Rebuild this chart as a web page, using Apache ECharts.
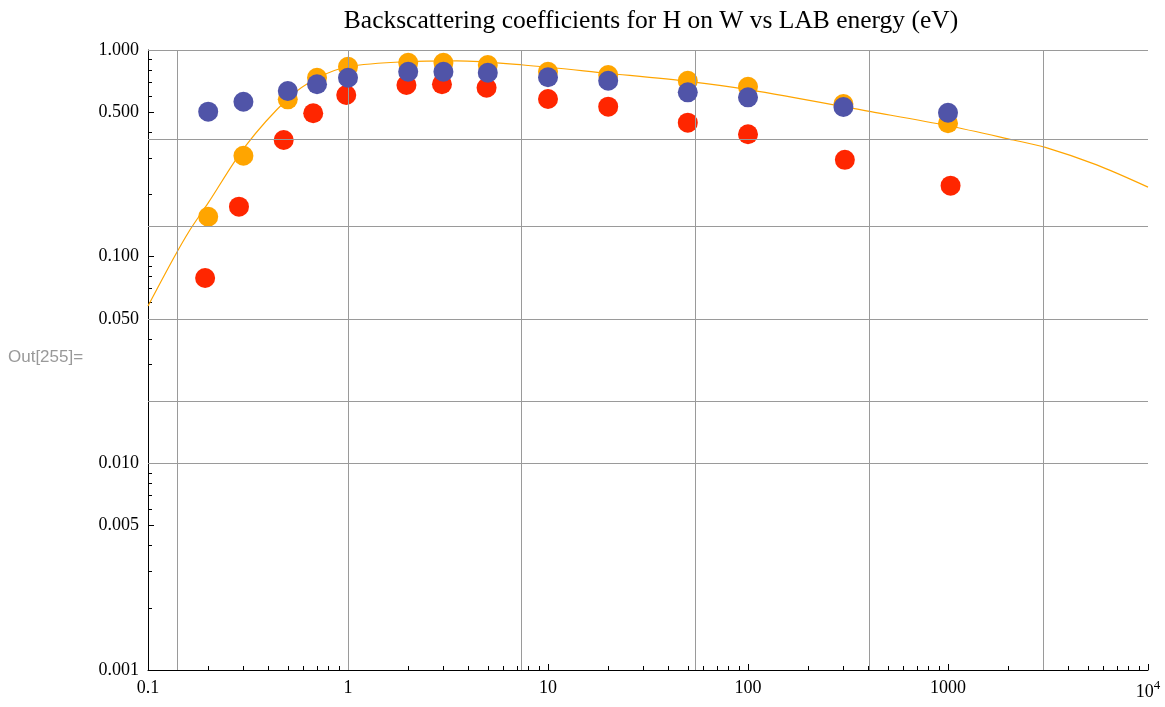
<!DOCTYPE html>
<html>
<head>
<meta charset="utf-8">
<title>Backscattering coefficients</title>
<script src="https://cdn.jsdelivr.net/npm/echarts@6/dist/echarts.min.js"></script>
<style>
    html, body { margin: 0; padding: 0; background: #fff; }
    #chart { width: 1165px; height: 707px; }
</style>
</head>
<body>
<div id="chart"></div>
<script>
// energies (eV) and backscattering coefficients
var energyOrange = [0.2, 0.3, 0.5, 0.7, 1, 2, 3, 5, 10, 20, 50, 100, 300, 1000];
var coefOrange   = [0.156, 0.308, 0.577, 0.734, 0.830, 0.868, 0.868, 0.846, 0.785, 0.757, 0.710, 0.664, 0.548, 0.442];
var energyRed = [0.193, 0.285, 0.477, 0.67, 0.98, 1.96, 2.95, 4.93, 10, 20, 50, 100, 305, 1030];
var coefRed   = [0.0788, 0.1745, 0.367, 0.494, 0.606, 0.677, 0.683, 0.657, 0.579, 0.532, 0.445, 0.391, 0.294, 0.2206];
var energyBlue = [0.2, 0.3, 0.5, 0.7, 1, 2, 3, 5, 10, 20, 50, 100, 300, 1000];
var coefBlue   = [0.503, 0.562, 0.633, 0.683, 0.734, 0.785, 0.785, 0.776, 0.738, 0.710, 0.624, 0.590, 0.530, 0.497];

// fitted curve
var fitEnergy = [0.1, 0.134, 0.162, 0.2, 0.305, 0.503, 0.698, 1, 1.96, 3.5, 7.52, 19.7, 51.3, 102, 412, 1000, 2121, 3066, 5540, 10000];
var fitCoef   = [0.0577, 0.098, 0.1346, 0.182, 0.340, 0.584, 0.730, 0.830, 0.878, 0.885, 0.846, 0.772, 0.703, 0.641, 0.503, 0.43, 0.367, 0.338, 0.278, 0.217];

// ticks and labels
var xMajor = [0.1, 1, 10, 100, 1000, 10000];
var yMajor = [0.001, 0.005, 0.01, 0.05, 0.1, 0.5, 1];
// grid lines sit at powers of e (Mathematica's automatic grid)
var xGrid = [0.1353, 1, 7.389, 54.60, 403.4, 2981];
var yGrid = [1, 0.3679, 0.1353, 0.04979, 0.01832, 0.006738, 0.002479];

function minorTicks(lo, hi) {
    var out = [];
    for (var d = lo; d < hi; d *= 10) {
        for (var k = 2; k <= 9; k++) {
            out.push(+(d * k).toPrecision(3));
        }
    }
    return out;
}
var xMinor = minorTicks(0.1, 10000);
var yMinor = minorTicks(0.001, 1);

function pairs(xs, ys) {
    return xs.map(function (x, i) { return [x, ys[i]]; });
}

var serif = 'Liberation Serif';
var chart = echarts.init(document.getElementById('chart'));

function logAxis(min, max, pos, major, minor, withLabel, fmt) {
    return {
        type: 'log', logBase: 10, min: min, max: max, position: pos,
        axisLine: {show: withLabel, lineStyle: {color: '#000', width: 1}},
        axisTick: {show: true, inside: true, length: withLabel ? 6 : 4,
                   customValues: withLabel ? major : minor,
                   lineStyle: {color: '#000', width: 1}},
        axisLabel: withLabel ? {
            customValues: major, formatter: fmt, color: '#000',
            fontFamily: serif, fontSize: 18, margin: 9,
            rich: {
                b: {fontFamily: serif, fontSize: 18, color: '#000'},
                sup: {fontFamily: serif, fontSize: 13, color: '#000', verticalAlign: 'bottom', padding: [0, 0, 14, 0]}
            }
        } : {show: false},
        splitLine: {show: false},
        minorTick: {show: false}
    };
}

var option = {
    animation: false,
    grid: {left: 148, right: 17, top: 50, bottom: 37, containLabel: false},
    graphic: [
        {type: 'text', x: 651, y: 21, style: {text: 'Backscattering coefficients for H on W vs LAB energy (eV)',
            font: '25.5px "Liberation Serif"', fill: '#000', textAlign: 'center', textVerticalAlign: 'middle'}},
        {type: 'text', x: 8, y: 357, style: {text: 'Out[255]=', font: '17px "Liberation Sans"',
            fill: '#999', textAlign: 'left', textVerticalAlign: 'middle'}}
    ],
    xAxis: [
        logAxis(0.1, 10000, 'bottom', xMajor, xMinor, true, function (v) {
            if (v >= 9999) return '{b|10}{sup|4}';
            return v < 1 ? String(v) : String(Math.round(v));
        }),
        logAxis(0.1, 10000, 'bottom', xMajor, xMinor, false)
    ],
    yAxis: [
        logAxis(0.001, 1, 'left', yMajor, yMinor, true, function (v) { return v.toFixed(3); }),
        logAxis(0.001, 1, 'left', yMajor, yMinor, false)
    ],
    series: [
        {
            name: 'grid', type: 'scatter', data: [], silent: true, z: 1,
            markLine: {
                silent: true, symbol: ['none', 'none'], animation: false,
                label: {show: false},
                lineStyle: {color: '#9a9a9a', width: 1, type: 'solid'},
                emphasis: {disabled: true},
                data: xGrid.map(function (v) { return {xAxis: v}; })
                    .concat(yGrid.map(function (v) { return {yAxis: v}; }))
            }
        },
        {
            name: 'fit', type: 'line', data: pairs(fitEnergy, fitCoef), showSymbol: false,
            smooth: 0.3, z: 2, lineStyle: {color: '#FFA500', width: 1.2}
        },
        {name: 'orange', type: 'scatter', data: pairs(energyOrange, coefOrange), symbolSize: 20, z: 3,
            itemStyle: {color: '#FFA500', opacity: 1}},
        {name: 'red', type: 'scatter', data: pairs(energyRed, coefRed), symbolSize: 20, z: 4,
            itemStyle: {color: '#FF2600', opacity: 1}},
        {name: 'blue', type: 'scatter', data: pairs(energyBlue, coefBlue), symbolSize: 20, z: 5,
            itemStyle: {color: '#5054A8', opacity: 1}}
    ]
};
chart.setOption(option);
</script>
</body>
</html>
